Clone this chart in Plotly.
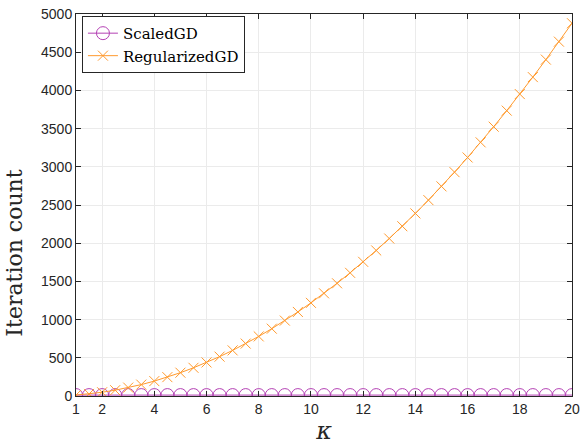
import plotly.graph_objects as go

kappa = [1 + 0.5 * i for i in range(39)]
scaled_gd = [12, 12, 12, 12, 12, 12, 12, 12, 12, 12, 12, 12, 12, 12, 12, 12, 12, 12, 12, 12,
             12, 12, 12, 12, 12, 12, 12, 12, 12, 12, 12, 12, 12, 12, 12, 12, 12, 12, 12]
regularized_gd = [12, 27, 49, 76, 110, 149, 195, 247, 305, 369, 439, 515, 597, 686, 780, 881,
                  987, 1100, 1219, 1344, 1475, 1612, 1756, 1905, 2061, 2222, 2390, 2564, 2744,
                  2930, 3122, 3320, 3525, 3735, 3952, 4174, 4403, 4638, 4879]
x_ticks = [1, 2, 4, 6, 8, 10, 12, 14, 16, 18, 20]
y_ticks = [0, 500, 1000, 1500, 2000, 2500, 3000, 3500, 4000, 4500, 5000]

PURPLE = "#B440B4"
ORANGE = "#FF9A2E"
AXIS = "#262626"
SERIF = "DejaVu Serif, Liberation Serif, serif"

fig = go.Figure()
fig.add_trace(go.Scatter(
    x=kappa, y=scaled_gd, name="ScaledGD", mode="lines+markers",
    line=dict(color=PURPLE, width=1),
    marker=dict(symbol="circle-open", size=13, color=PURPLE, line=dict(width=1)),
))
fig.add_trace(go.Scatter(
    x=kappa, y=regularized_gd, name="RegularizedGD", mode="lines+markers",
    line=dict(color=ORANGE, width=1),
    marker=dict(symbol="x-thin-open", size=10, color=ORANGE, line=dict(width=1, color=ORANGE)),
))

axis_common = dict(
    showgrid=True, gridcolor="#EBEBEB", gridwidth=1, zeroline=False,
    showline=True, linecolor=AXIS, linewidth=1, mirror="ticks",
    ticks="inside", ticklen=5, tickcolor=AXIS, ticklabeloverflow="allow",
    tickfont=dict(family="Liberation Sans, Arial, sans-serif", size=14, color=AXIS),
)

fig.update_layout(
    width=586, height=448,
    paper_bgcolor="white", plot_bgcolor="white",
    margin=dict(l=76, r=7, t=6, b=52),
    xaxis=dict(range=[1, 20], tickvals=x_ticks,
               title=dict(text="<i>κ</i>", font=dict(family=SERIF, size=24, color=AXIS), standoff=6),
               **axis_common),
    yaxis=dict(range=[0, 5000], tickvals=y_ticks, **axis_common),
    legend=dict(
        x=0.012, y=0.995, xanchor="left", yanchor="top",
        bgcolor="white", bordercolor=AXIS, borderwidth=1,
        font=dict(family=SERIF, size=15, color="black"),
        tracegroupgap=0, itemwidth=30,
    ),
)
fig.add_annotation(
    text="Iteration count", xref="paper", yref="paper", x=-0.124, y=0.374,
    textangle=-90, showarrow=False, xanchor="center", yanchor="middle",
    font=dict(family=SERIF, size=22, color=AXIS),
)

fig.write_html("out.html", config={"displayModeBar": False},
               post_script="document.body.style.margin='0';document.body.style.overflow='hidden';")
